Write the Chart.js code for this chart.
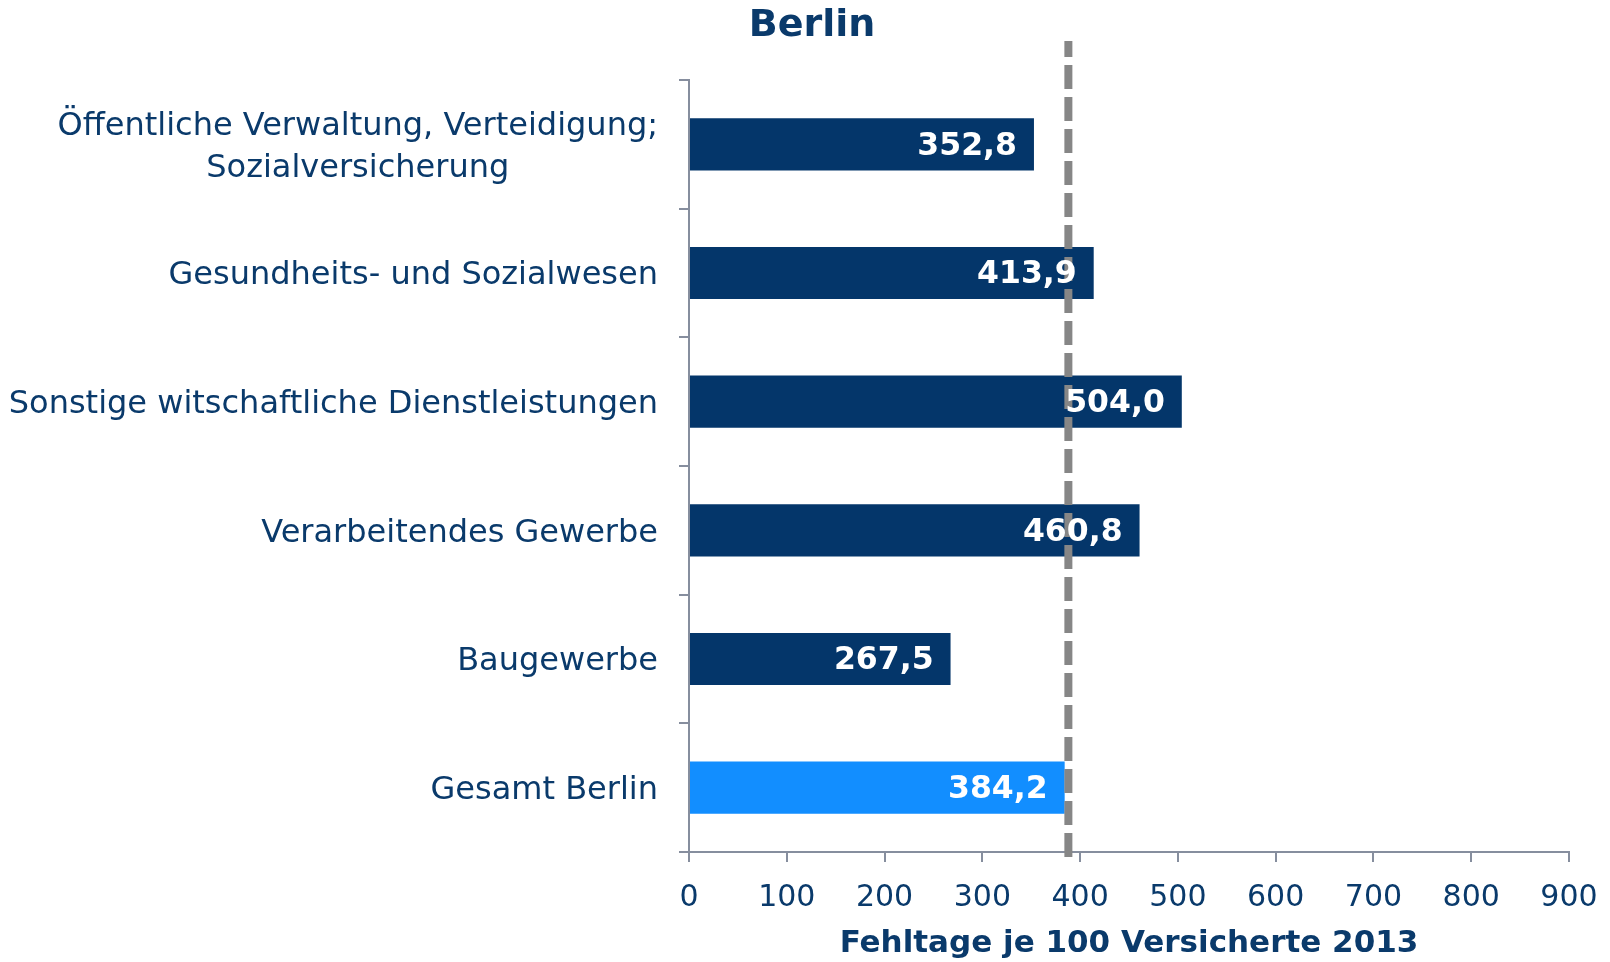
<!DOCTYPE html>
<html>
<head>
<meta charset="utf-8">
<script src="https://cdn.jsdelivr.net/npm/chart.js@4.4.1/dist/chart.umd.min.js"></script>
<style>
html,body{margin:0;padding:0;background:#fff;}
#wrap{width:1610px;height:962px;position:relative;}
</style>
</head>
<body>
<div id="wrap"><canvas id="c" width="1610" height="962"></canvas></div>
<script>
// ---- data ----
const categories = [
  ["Öffentliche Verwaltung, Verteidigung;", "Sozialversicherung"],
  "Gesundheits- und Sozialwesen",
  "Sonstige witschaftliche Dienstleistungen",
  "Verarbeitendes Gewerbe",
  "Baugewerbe",
  "Gesamt Berlin"
];
const values = [352.8, 413.9, 504.0, 460.8, 267.5, 384.2];
const valueLabels = ["352,8", "413,9", "504,0", "460,8", "267,5", "384,2"];
const xTicks = [0, 100, 200, 300, 400, 500, 600, 700, 800, 900];
const referenceValue = 388;
const chartTitle = "Berlin";
const axisTitle = "Fehltage je 100 Versicherte 2013";

// ---- styles ----
const DARK = "#04366A";
const LIGHT = "#128EFF";
const TEXT = "#0A3A6B";
const AXIS = "#868E9E";
const FONT = "'DejaVu Sans', Verdana, sans-serif";
const barColors = categories.map((c, i) => i === categories.length - 1 ? LIGHT : DARK);

const PLOT_LEFT = 689;

const labelPlugin = {
  id: 'customLabels',
  afterDatasetsDraw(chart) {
    const ctx = chart.ctx;
    const xs = chart.scales.x;
    const ys = chart.scales.y;

    // title, centered at the reference position
    ctx.save();
    ctx.fillStyle = TEXT;
    ctx.font = "bold 38px " + FONT;
    ctx.textAlign = "center";
    ctx.textBaseline = "middle";
    ctx.fillText(chartTitle, 812, 26);
    ctx.restore();

    // reference dashed line
    const xr = xs.getPixelForValue(referenceValue);
    ctx.save();
    ctx.strokeStyle = "#868686";
    ctx.lineWidth = 8;
    ctx.setLineDash([24, 8]);
    ctx.lineDashOffset = 8;
    ctx.beginPath();
    ctx.moveTo(xr, chart.chartArea.top - 39);
    ctx.lineTo(xr, chart.chartArea.bottom + 6);
    ctx.stroke();
    ctx.restore();

    // value labels
    const meta = chart.getDatasetMeta(0);
    ctx.save();
    ctx.fillStyle = "#fff";
    ctx.font = "bold 31.5px " + FONT;
    ctx.textAlign = "right";
    ctx.textBaseline = "middle";
    meta.data.forEach((bar, i) => {
      ctx.fillText(valueLabels[i], bar.x - 17, bar.y + 2);
    });
    ctx.restore();

    // category labels
    ctx.save();
    ctx.fillStyle = TEXT;
    ctx.font = "32px " + FONT;
    ctx.textBaseline = "middle";
    const right = ys.right - 31;
    const lh = 42;
    categories.forEach((lab, i) => {
      const y = ys.getPixelForValue(i) + 3;
      const lines = Array.isArray(lab) ? lab : [lab];
      const maxW = Math.max(...lines.map(l => ctx.measureText(l).width));
      const startY = y - (lines.length - 1) * lh / 2;
      lines.forEach((l, k) => {
        if (lines.length > 1) {
          ctx.textAlign = "center";
          ctx.fillText(l, right - maxW / 2, startY + k * lh);
        } else {
          ctx.textAlign = "right";
          ctx.fillText(l, right, startY + k * lh);
        }
      });
    });
    ctx.restore();
  }
};

new Chart(document.getElementById('c'), {
  type: 'bar',
  data: {
    labels: categories,
    datasets: [{
      data: values,
      backgroundColor: barColors,
      borderWidth: 0,
      categoryPercentage: 0.405,
      barPercentage: 1.0
    }]
  },
  options: {
    indexAxis: 'y',
    responsive: false,
    animation: false,
    devicePixelRatio: 1,
    layout: { padding: { left: 0, right: 41, top: 80, bottom: 0 } },
    plugins: {
      legend: { display: false },
      tooltip: { enabled: false },
      title: { display: false }
    },
    scales: {
      x: {
        type: 'linear',
        min: 0,
        max: 900,
        afterBuildTicks(scale) { scale.ticks = xTicks.map(v => ({ value: v })); },
        afterFit(scale) {
          scale.height = 962 - 852;
          scale.paddingRight = 0;
          scale.paddingLeft = 0;
        },
        border: { display: true, color: AXIS, width: 2 },
        grid: { drawOnChartArea: false, drawTicks: true, tickLength: 10, color: AXIS, lineWidth: 2 },
        ticks: { color: TEXT, font: { family: FONT, size: 30 }, padding: 18, maxRotation: 0 },
        title: {
          display: true,
          text: axisTitle,
          color: TEXT,
          font: { family: FONT, size: 31, weight: 'bold' },
          padding: { top: 0, bottom: -1 }
        }
      },
      y: {
        type: 'category',
        afterFit(scale) { scale.width = PLOT_LEFT; },
        border: { display: true, color: AXIS, width: 2 },
        grid: { offset: true, drawOnChartArea: false, drawTicks: true, tickLength: 10, color: AXIS, lineWidth: 2 },
        ticks: { display: false }
      }
    }
  },
  plugins: [labelPlugin]
});
</script>
</body>
</html>
